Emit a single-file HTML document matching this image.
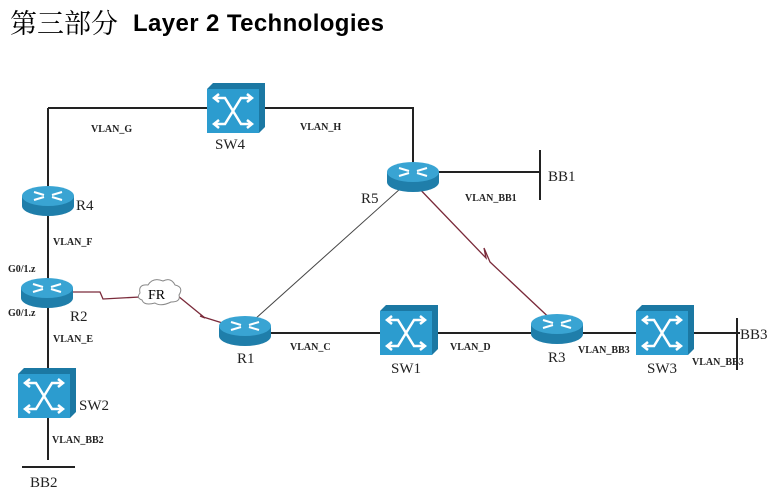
<!DOCTYPE html>
<html><head><meta charset="utf-8"><style>
html,body{margin:0;padding:0;background:#fff;width:773px;height:498px;overflow:hidden}
</style></head><body>
<svg width="773" height="498" viewBox="0 0 773 498" xmlns="http://www.w3.org/2000/svg">
<defs>
<g id="rt">
 <path d="M-26,0 L-26,10 A26,10 0 0 0 26,10 L26,0 Z" fill="#1f7eaa"/>
 <ellipse cx="0" cy="0" rx="26" ry="10" fill="#39a4d3"/>
 <g stroke="#fff" stroke-width="2" fill="none">
  <path d="M-14,-4 L-4,-1 M4,1 L14,4 M14,-4 L4,-1 M-4,1 L-14,4"/>
 </g>
</g>
<g id="sw">
 <path d="M0,6 L6,0 L58,0 L58,44 L52,50 L0,50 Z" fill="#1b78a3"/>
 <rect x="0" y="6" width="52" height="44" fill="#2c9ccf"/>
 <g stroke="#fff" stroke-width="2.5" fill="none">
  <path d="M8,15 L18,15 L34,41 L44,41 M8,41 L18,41 L34,15 L44,15"/>
  <path d="M12,11 L7,15 L12,19 M12,37 L7,41 L12,45 M40,11 L45,15 L40,19 M40,37 L45,41 L40,45"/>
 </g>
</g>
</defs>
<text x="10" y="33" font-family="Noto Serif CJK SC, serif" font-size="27">第三部分</text>
<text x="133" y="31" font-family="Liberation Sans, sans-serif" font-weight="bold" font-size="24" textLength="251">Layer 2 Technologies</text>

<g stroke="#222" stroke-width="2" fill="none">
 <path d="M48,108 L208,108 M265,108 L413,108 L413,170 M48,108 L48,460"/>
 <path d="M413,172 L540,172 M540,150 L540,200"/>
 <path d="M245,333 L740,333 M737,318 L737,370"/>
 <path d="M22,467 L75,467"/>
</g>
<path d="M245,328 L410,180" stroke="#444" stroke-width="1" fill="none"/>
<g stroke="#7a2a3a" stroke-width="1.3" fill="none">
 <path d="M413,182 L486,258 L484,248 L490,262 L557,325"/>
 <path d="M60,292 L100,292 L103,299 L140,297"/>
 <path d="M178,296 L205,318 L200,316 L245,330"/>
</g>
<path d="M140,293 q-2,-9 8,-8 q5,-8 15,-4 q8,-4 12,4 q9,2 4,10 q2,7 -8,7 q-10,5 -16,1 q-11,3 -13,-3 q-6,-2 -2,-7z" fill="#fff" stroke="#888"/>
<text x="148" y="299" font-family="Liberation Serif, serif" font-size="14">FR</text>

<use href="#rt" x="48" y="196"/>
<use href="#rt" x="47" y="288"/>
<use href="#rt" x="245" y="326"/>
<use href="#rt" x="413" y="172"/>
<use href="#rt" x="557" y="324"/>
<use href="#sw" x="207" y="83"/>
<use href="#sw" x="380" y="305"/>
<use href="#sw" x="636" y="305"/>
<use href="#sw" x="18" y="368"/>

<g font-family="Liberation Serif, serif" font-size="15" fill="#222">
 <text x="215" y="149">SW4</text>
 <text x="76" y="210">R4</text>
 <text x="70" y="321">R2</text>
 <text x="237" y="363">R1</text>
 <text x="361" y="203">R5</text>
 <text x="548" y="362">R3</text>
 <text x="391" y="373">SW1</text>
 <text x="647" y="373">SW3</text>
 <text x="79" y="410">SW2</text>
 <text x="548" y="181">BB1</text>
 <text x="740" y="339">BB3</text>
 <text x="30" y="487">BB2</text>
</g>
<g font-family="Liberation Serif, serif" font-size="10" font-weight="bold" fill="#222">
 <text x="91" y="132">VLAN_G</text>
 <text x="300" y="130">VLAN_H</text>
 <text x="465" y="201">VLAN_BB1</text>
 <text x="53" y="245">VLAN_F</text>
 <text x="8" y="272">G0/1.z</text>
 <text x="8" y="316">G0/1.z</text>
 <text x="53" y="342">VLAN_E</text>
 <text x="290" y="350">VLAN_C</text>
 <text x="450" y="350">VLAN_D</text>
 <text x="578" y="353">VLAN_BB3</text>
 <text x="692" y="365">VLAN_BB3</text>
 <text x="52" y="443">VLAN_BB2</text>
</g>
</svg>
</body></html>
